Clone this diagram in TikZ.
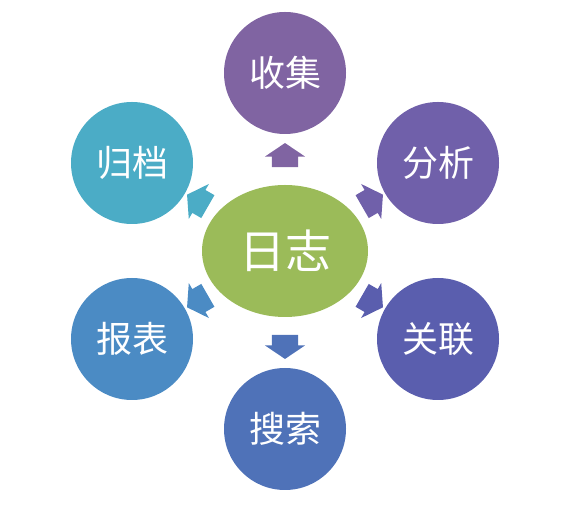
\documentclass[tikz,border=0pt]{standalone}
\usepackage{fontspec}
\newfontfamily\cjk{Noto Sans CJK SC}
\usetikzlibrary{shapes.geometric,shapes.arrows}

\definecolor{logGreen}{HTML}{9BBB59}
\definecolor{collectPurple}{HTML}{8064A2}
\definecolor{analyzePurple}{HTML}{7060AA}
\definecolor{correlateBlue}{HTML}{5A5EAE}
\definecolor{searchBlue}{HTML}{4F72B8}
\definecolor{reportBlue}{HTML}{4B8BC4}
\definecolor{archiveCyan}{HTML}{4BACC6}

\begin{document}
\begin{tikzpicture}[x=1pt,y=1pt,
    bubble/.style={circle,minimum size=122pt,inner sep=0pt,text=white,
      font=\cjk\fontsize{36}{36}\selectfont},
    pointer/.style={single arrow,draw=none,inner xsep=0pt,inner ysep=13pt,
      minimum height=24pt,
      single arrow head extend=7pt,single arrow tip angle=112,
      sloped,allow upside down}]
        \pgfmathsetmacro{\w}{153}
        \pgfmathsetmacro{\h}{88}
        \pgfmathsetmacro{\v}{178}

        \useasboundingbox (0,0) rectangle (580,513);

        \node[ellipse,fill=logGreen,minimum width=166pt,minimum height=132pt,
          inner sep=0pt,text=white,font=\cjk\fontsize{46}{46}\selectfont] (log) at (285,262) {日志};

        \node[bubble,fill=collectPurple] (collect) at (285,262+\v) {收集};
        \node[bubble,fill=analyzePurple] (analyze) at (285+\w,262+\h) {分析};
        \node[bubble,fill=correlateBlue] (correlate) at (285+\w,262-\h) {关联};
        \node[bubble,fill=searchBlue] (search) at (285,262-\v) {搜索};
        \node[bubble,fill=reportBlue] (report) at (285-\w,262-\h) {报表};
        \node[bubble,fill=archiveCyan] (archive) at (285-\w,262+\h) {归档};

        \path (log) -- node[pointer,fill=collectPurple] {} (collect);
        \path (log) -- node[pointer,fill=analyzePurple] {} (analyze);
        \path (log) -- node[pointer,fill=correlateBlue] {} (correlate);
        \path (log) -- node[pointer,fill=searchBlue] {} (search);
        \path (log) -- node[pointer,fill=reportBlue] {} (report);
        \path (log) -- node[pointer,fill=archiveCyan] {} (archive);
      \end{tikzpicture}
\end{document}
